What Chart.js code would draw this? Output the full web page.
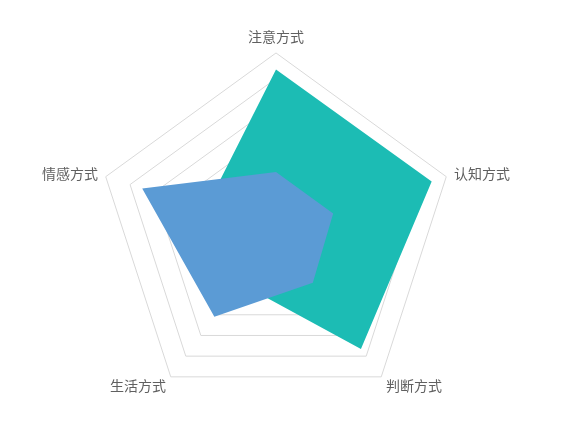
<!DOCTYPE html>
<html>
<head>
<meta charset="utf-8">
<script src="https://cdn.jsdelivr.net/npm/chart.js@4/dist/chart.umd.min.js"></script>
<style>
  html, body { margin: 0; padding: 0; background: #fff; }
  #c { display: block; }
</style>
</head>
<body>
<canvas id="c" width="574" height="443"></canvas>
<script>
// ---- data ----
const categories = ['注意方式', '认知方式', '判断方式', '生活方式', '情感方式'];
const seriesBlue = [2.35, 2.35, 2.45, 4.1, 5.5];
const seriesTeal = [6.35, 6.4, 5.65, 2.45, 2.9];
const scaleMax = 7;
const scaleStep = 1;

// per-label line heights (label alignment tuning)
const labelLineHeights = [1.14, 0.01, 0.36, 0.36, 0.01];

new Chart(document.getElementById('c'), {
  type: 'radar',
  data: {
    labels: categories,
    datasets: [
      {
        label: '系列二',
        data: seriesBlue,
        backgroundColor: '#5b9bd5',
        borderColor: '#5b9bd5',
        borderWidth: 0,
        pointRadius: 0,
        pointHoverRadius: 0,
        fill: true
      },
      {
        label: '系列一',
        data: seriesTeal,
        backgroundColor: '#1cbcb4',
        borderColor: '#1cbcb4',
        borderWidth: 0,
        pointRadius: 0,
        pointHoverRadius: 0,
        fill: true
      }
    ]
  },
  options: {
    responsive: false,
    animation: false,
    layout: { padding: { left: 0, right: 22, top: 18, bottom: 19 } },
    plugins: {
      legend: { display: false },
      tooltip: { enabled: false }
    },
    elements: { line: { tension: 0 } },
    scales: {
      r: {
        min: 0,
        max: scaleMax,
        ticks: { display: false, stepSize: scaleStep },
        grid: { color: '#d9d9d9', lineWidth: 1, circular: false },
        angleLines: { display: false },
        pointLabels: {
          display: true,
          color: '#606060',
          padding: 8,
          font: (ctx) => ({
            family: '"Noto Sans CJK SC", "Noto Sans", sans-serif',
            size: 14,
            lineHeight: labelLineHeights[ctx.index]
          })
        }
      }
    }
  }
});
</script>
</body>
</html>
